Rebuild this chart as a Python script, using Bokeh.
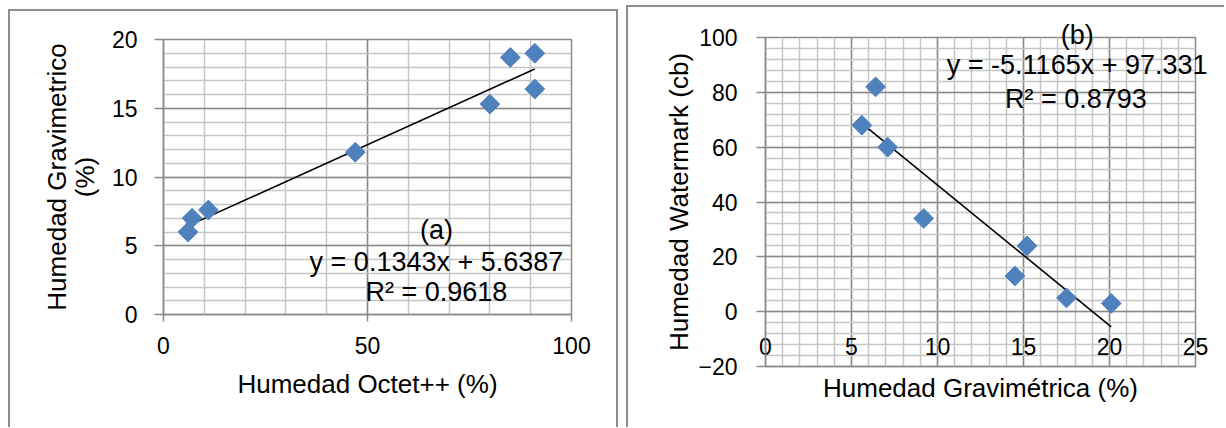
from bokeh.plotting import figure
from bokeh.models import SingleIntervalTicker, FixedTicker, LinearAxis, Label
from bokeh.layouts import row, column
from bokeh.embed import file_html
from bokeh.resources import INLINE
import numpy as np

# ---- data (panel a) ----
octet_x = [6, 7, 11, 47, 80, 85, 91, 91]
grav_a_y = [6.0, 7.0, 7.6, 11.8, 15.3, 18.7, 19.0, 16.4]
slope_a, intercept_a = 0.1343, 5.6387
eq_a = "y = 0.1343x + 5.6387"
r2_a = "R² = 0.9618"
tag_a = "(a)"

# ---- data (panel b) ----
grav_b_x = [5.6, 6.4, 7.1, 9.2, 14.5, 15.2, 17.5, 20.1]
watermark_y = [68, 82, 60, 34, 13, 24, 5, 3]
slope_b, intercept_b = -5.1165, 97.331
eq_b = "y = -5.1165x + 97.331"
r2_b = "R² = 0.8793"
tag_b = "(b)"

FONT = "Liberation Sans"
MAJOR = "#8a8a8a"
MINOR = "#c6c6c6"
BLUE = "#4F81BD"
BORDER = "2px solid #8c8c8c"


def style_axis(ax):
    ax.axis_line_color = MAJOR
    ax.axis_line_width = 1.5
    ax.major_tick_line_color = MAJOR
    ax.major_tick_line_width = 1.5
    ax.major_tick_in = 0
    ax.minor_tick_line_color = None
    ax.major_label_text_font = FONT
    ax.major_label_text_font_size = "23px"
    ax.major_label_text_color = "black"
    ax.axis_label_text_font = FONT
    ax.axis_label_text_font_size = "26px"
    ax.axis_label_text_font_style = "normal"
    ax.axis_label_text_color = "black"


def style_axes(p, xint, yint, xstand, ystand, xlstand, ylstand, xtick_out=9):
    p.xaxis.ticker = SingleIntervalTicker(interval=xint, num_minor_ticks=5)
    p.yaxis.ticker = SingleIntervalTicker(interval=yint, num_minor_ticks=5)
    for ax in (p.xaxis, p.yaxis):
        style_axis(ax)
    p.yaxis.major_tick_out = 9
    p.xaxis.major_tick_out = xtick_out
    p.xaxis.major_label_standoff = xstand
    p.yaxis.major_label_standoff = ystand
    p.xaxis.axis_label_standoff = xlstand
    p.yaxis.axis_label_standoff = ylstand
    for g in (p.xgrid, p.ygrid):
        g.grid_line_color = MAJOR
        g.grid_line_width = 1.5
        g.minor_grid_line_color = MINOR
        g.minor_grid_line_width = 1.5
    p.outline_line_color = MAJOR
    p.outline_line_width = 1.5
    p.background_fill_color = "white"
    p.border_fill_color = "white"


def text_label(x, y, txt):
    return Label(x=x, y=y, text=txt, text_align="center", text_baseline="middle",
                 text_font=FONT, text_font_size="27px", text_color="black")


# ---------- panel (a) ----------
p1 = figure(width=606, height=416, x_range=(0, 100), y_range=(0, 20),
            output_backend="svg", toolbar_location=None,
            min_border_left=153, min_border_right=49, min_border_top=28, min_border_bottom=115,
            x_axis_label="Humedad Octet++ (%)", y_axis_label="(%)",
            margin=(9, 0, 0, 8),
            styles={"border-top": BORDER, "border-left": BORDER, "border-right": BORDER,
                    "box-sizing": "content-box"})
style_axes(p1, 50, 5, 15, 17, 12, 9, xtick_out=7)
outer = LinearAxis(ticker=FixedTicker(ticks=[]), axis_label="Humedad Gravimetrico")
style_axis(outer)
outer.axis_line_color = None
outer.major_tick_out = 0
outer.major_label_standoff = 0
outer.axis_label_standoff = -5
p1.add_layout(outer, "left")

xa = np.array([min(octet_x), max(octet_x)])
p1.line(xa, slope_a * xa + intercept_a, line_color="black", line_width=1.6)
p1.scatter(octet_x, grav_a_y, marker="square", size=14, angle=np.pi / 4,
           fill_color=BLUE, line_color=BLUE)
for txt, yy in ((tag_a, 6.13), (eq_a, 3.81), (r2_a, 1.61)):
    p1.add_layout(text_label(66.9, yy, txt))

# ---------- panel (b) ----------
p2 = figure(width=596, height=420, x_range=(0, 25), y_range=(-20, 100),
            output_backend="svg", toolbar_location=None,
            min_border_left=136, min_border_right=31, min_border_top=29, min_border_bottom=63,
            x_axis_label="Humedad Gravimétrica (%)", y_axis_label="Humedad Watermark (cb)",
            margin=(5, 0, 0, 0),
            styles={"border-top": BORDER, "border-left": BORDER, "box-sizing": "content-box"})
style_axes(p2, 5, 20, -33, 19, 15, 1, xtick_out=0)

xb = np.array([min(grav_b_x), max(grav_b_x)])
p2.line(xb, slope_b * xb + intercept_b, line_color="black", line_width=1.6)
p2.scatter(grav_b_x, watermark_y, marker="square", size=14, angle=np.pi / 4,
           fill_color=BLUE, line_color=BLUE)
# texts that overflow the frame live in side panels so they are not clipped
p2.add_layout(text_label(18.12, 100.9, tag_b), "left")
p2.add_layout(text_label(18.12, 89.95, eq_b), "above")
p2.add_layout(text_label(18.05, 77.5, r2_b))

layout = row(column(p1), column(p2), spacing=8)
open("out.html", "w").write(file_html(layout, INLINE))
